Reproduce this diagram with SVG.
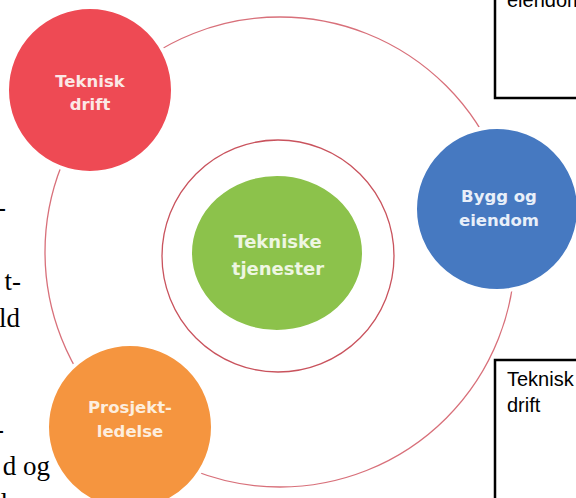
<svg xmlns="http://www.w3.org/2000/svg" width="576" height="498" viewBox="0 0 576 498">
<style>
.ring{fill:none;stroke:#d8707a;stroke-width:1.3}
.inner{fill:none;stroke:#c9535d;stroke-width:1.3}
.node{stroke:#ffffff;stroke-width:4}
.lbl{font-family:"DejaVu Sans",sans-serif;font-weight:bold;font-size:16.5px;text-anchor:middle}
.body{font-family:"Liberation Serif",serif;font-size:27px;fill:#000;text-anchor:end}
.box{fill:#fff;stroke:#000;stroke-width:2.5}
.boxt{font-family:"Liberation Sans",Arial,sans-serif;font-size:20px;fill:#000}
</style>
<rect width="576" height="498" fill="#fff"/>
<g id="page-text">
<text class="body" x="6" y="216">-</text>
<text class="body" x="21" y="290">t-</text>
<text class="body" x="20" y="327">ld</text>
<text class="body" x="4" y="438">-</text>
<text class="body" x="50" y="475">d og</text>
<text class="body" x="8" y="512">l</text>
</g>
<g id="connectors">
<circle class="ring" cx="280" cy="252" r="235"/>
</g>
<g id="node-center">
<circle class="inner" cx="278" cy="256" r="116"/>
<ellipse class="node" cx="277" cy="253" rx="87" ry="79" fill="#8cc24b"/>
<text class="lbl" x="278" y="248" style="font-size:18px" fill="#eef6e2">Tekniske</text>
<text class="lbl" x="278" y="275" style="font-size:18px" fill="#eef6e2">tjenester</text>
</g>
<g id="node-teknisk-drift">
<circle class="node" cx="90" cy="90" r="83" fill="#ee4a54"/>
<text class="lbl" x="90" y="87" fill="#fbe8e6">Teknisk</text>
<text class="lbl" x="90" y="110" fill="#fbe8e6">drift</text>
</g>
<g id="node-bygg">
<circle class="node" cx="497" cy="209" r="82" fill="#4679c1"/>
<text class="lbl" x="499" y="202" fill="#e8eff9">Bygg og</text>
<text class="lbl" x="499" y="226" fill="#e8eff9">eiendom</text>
</g>
<g id="node-prosjekt">
<circle class="node" cx="130" cy="427" r="83" fill="#f5953f"/>
<text class="lbl" x="130" y="413" fill="#fdeede">Prosjekt-</text>
<text class="lbl" x="130" y="437" fill="#fdeede">ledelse</text>
</g>
<g id="box-top">
<rect class="box" x="495" y="-20" width="100" height="118"/>
<text class="boxt" x="507" y="7">eiendom</text>
</g>
<g id="box-bottom">
<rect class="box" x="495" y="360" width="100" height="160"/>
<text class="boxt" x="507" y="386">Teknisk</text>
<text class="boxt" x="507" y="412">drift</text>
</g>
</svg>
